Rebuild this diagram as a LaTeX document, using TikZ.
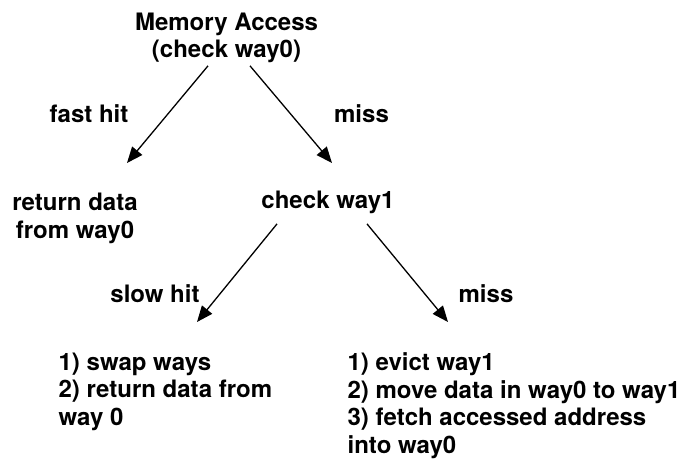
\documentclass[tikz,border=0pt]{standalone}
\usepackage{fontspec}
\setmainfont{TeX Gyre Heros}
\usetikzlibrary{arrows.meta}

\begin{document}
\begin{tikzpicture}[x=1pt, y=-1pt, >={Triangle[length=16pt,width=13pt]}, line width=1.3pt,
  every node/.style={inner sep=0pt, align=center, font=\fontsize{24}{28}\selectfont\bfseries},
  steps/.style={anchor=north west, align=left, font=\fontsize{24}{27.5}\selectfont\bfseries}]
  \useasboundingbox (0,0) rectangle (683,462);
  % states
  \node[anchor=north, font=\fontsize{24}{27.5}\selectfont\bfseries] (access) at (226.5,12) {Memory Access\\(check way0)};
  \node[anchor=north] (ret0) at (75,192) {return data\\from way0};
  \node[anchor=base] (chk1) at (328,209) {check way1};
  \node[steps] (swap) at (58,352) {1) swap ways\\2) return data from\\way 0};
  \node[steps] (evict) at (347,352) {1) evict way1\\2) move data in way0 to way1\\3) fetch accessed address\\into way0};
  % edge labels
  \node[anchor=base] (fast) at (89,123) {fast hit};
  \node[anchor=base] (miss0) at (361.5,123) {miss};
  \node[anchor=base] (slow) at (155,303) {slow hit};
  \node[anchor=base] (miss1) at (486,303) {miss};
  % arrow tips
  \coordinate (tipret) at (127,163);
  \coordinate (tipchk) at (332,163);
  \coordinate (tipswap) at (197,322);
  \coordinate (tipevict) at (448,322);
  \draw[->] ([xshift=-18.5pt,yshift=-2.3pt]access.south) -- (tipret);
  \draw[->] ([xshift=23.5pt,yshift=-2.3pt]access.south) -- (tipchk);
  \draw[->] ([xshift=-51pt,yshift=-9pt]chk1.south) -- (tipswap);
  \draw[->] ([xshift=39pt,yshift=-9pt]chk1.south) -- (tipevict);
\end{tikzpicture}
\end{document}
